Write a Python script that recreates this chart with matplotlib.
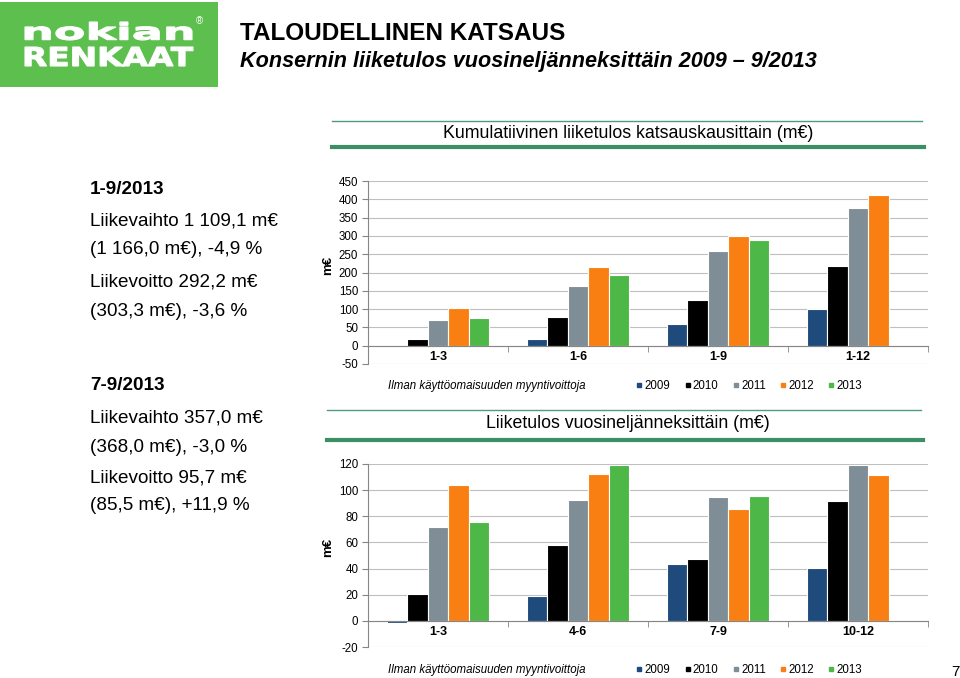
import matplotlib

matplotlib.use("Agg")
import matplotlib.pyplot as plt
from matplotlib.font_manager import FontProperties
from matplotlib.lines import Line2D
from matplotlib.patches import PathPatch, Rectangle
from matplotlib.textpath import TextPath
from matplotlib.transforms import Affine2D

plt.rcParams["font.family"] = ["Liberation Sans", "DejaVu Sans"]
plt.rcParams["axes.unicode_minus"] = False

# --- Data --------------------------------------------------------------------
years = ["2009", "2010", "2011", "2012", "2013"]
colors = ["#1F4A7C", "#000000", "#7F8D97", "#FA7F12", "#4DB848"]

cum_periods = ["1-3", "1-6", "1-9", "1-12"]
cum_2009 = [-1.6, 17.5, 58, 99]
cum_2010 = [18, 78, 125, 218]
cum_2011 = [69, 163, 258, 376]
cum_2012 = [104, 215, 300, 413]
cum_2013 = [75, 193, 289, None]

q_periods = ["1-3", "4-6", "7-9", "10-12"]
q_2009 = [-1.6, 19.2, 43.5, 40.2]
q_2010 = [20.5, 58.3, 47.3, 91.8]
q_2011 = [71.6, 92.8, 94.9, 119.2]
q_2012 = [104.3, 112.5, 85.5, 111.3]
q_2013 = [75.7, 119.4, 95.7, None]

cum_yticks = [-50, 0, 50, 100, 150, 200, 250, 300, 350, 400, 450]
q_yticks = [-20, 0, 20, 40, 60, 80, 100, 120]

W, H = 960, 678
fig = plt.figure(figsize=(W / 100, H / 100), dpi=100)


def fx(px):
    return px / W


def fy(py):
    return 1 - py / H


# --- Logo ----------------------------------------------------------------------
logo = fig.add_axes([0, fy(87), fx(218), 85 / H])
logo.set_xlim(0, 218)
logo.set_ylim(87, 2)
logo.axis("off")
logo.add_patch(Rectangle((0, 2), 218, 85, color="#5CBF4E"))


def stretched_text(ax, s, x0, x1, y0, y1, weight="bold"):
    tp = TextPath((0, 0), s, prop=FontProperties(family="DejaVu Sans", weight=weight))
    ext = tp.get_extents()
    sx = (x1 - x0) / ext.width
    sy = (y1 - y0) / ext.height
    tr = Affine2D().translate(-ext.x0, -ext.y0).scale(sx, -sy).translate(x0, y1)
    ax.add_patch(PathPatch(tr.transform_path(tp), color="white", lw=0.8))


stretched_text(logo, "nokian", 25, 192, 22, 40)
stretched_text(logo, "RENKAAT", 25, 193, 47, 66)
logo.text(199, 21, "®", color="white", fontsize=7, ha="center", va="center")

# --- Titles ---------------------------------------------------------------------
fig.text(fx(240), fy(34), "TALOUDELLINEN KATSAUS", fontsize=17.5, fontweight="bold",
         va="center", ha="left")
fig.text(fx(240), fy(62), "Konsernin liiketulos vuosineljänneksittäin 2009 – 9/2013",
         fontsize=15.6, fontweight="bold", style="italic", va="center", ha="left")

# --- Left-hand text ---------------------------------------------------------------
left_lines = [
    (189, "1-9/2013", "bold"),
    (221, "Liikevaihto 1 109,1 m€", "normal"),
    (250, "(1 166,0 m€), -4,9 %", "normal"),
    (282, "Liikevoitto 292,2 m€", "normal"),
    (311, "(303,3 m€), -3,6 %", "normal"),
    (386, "7-9/2013", "bold"),
    (418, "Liikevaihto 357,0 m€", "normal"),
    (447, "(368,0 m€), -3,0 %", "normal"),
    (478, "Liikevoitto 95,7 m€", "normal"),
    (506, "(85,5 m€), +11,9 %", "normal"),
]
for y, s, w in left_lines:
    fig.text(fx(90), fy(y), s, fontsize=13.6, fontweight=w, va="center", ha="left")

fig.text(fx(955), fy(672), "7", fontsize=11, ha="center", va="center")


# --- Section headers ----------------------------------------------------------
def header(text, y_top, y_text, y_bot, x0, x1):
    fig.add_artist(Line2D([fx(x0), fx(x1)], [fy(y_top), fy(y_top)], color="#4E9C80", lw=1))
    fig.add_artist(Line2D([fx(x0), fx(x1 + 2)], [fy(y_bot), fy(y_bot)], color="#3C8F64", lw=3))
    fig.text(fx(628), fy(y_text), text, fontsize=12.8, ha="center", va="center")


header("Kumulatiivinen liiketulos katsauskausittain (m€)", 121, 133, 147, 332, 922)
header("Liiketulos vuosineljänneksittäin (m€)", 410, 423, 440, 327, 921)


# --- Charts ---------------------------------------------------------------------
def bar_chart(rect, periods, series, yticks, ylabel_y, legend_y):
    ax = fig.add_axes(rect)
    n = len(series)
    step = 0.147
    for j, (vals, c) in enumerate(zip(series, colors)):
        xs = [i + (j - (n - 1) / 2) * step for i, v in enumerate(vals) if v is not None]
        vs = [v for v in vals if v is not None]
        ax.bar(xs, vs, width=step, color=c, edgecolor="white", linewidth=0.8, zorder=3)
    ax.set_xlim(-0.5, len(periods) - 0.5)
    ax.set_ylim(yticks[0], yticks[-1])
    ax.set_yticks(yticks)
    ax.yaxis.grid(True, color="#BFBFBF", lw=0.8, zorder=0)
    ax.set_axisbelow(True)
    for s in ["top", "right"]:
        ax.spines[s].set_visible(False)
    ax.spines["left"].set_color("#868686")
    ax.spines["bottom"].set_color("#868686")
    ax.spines["bottom"].set_position(("data", 0))
    ax.spines["bottom"].set_zorder(4)
    ax.tick_params(axis="y", labelsize=8.3, length=4, color="#868686", pad=3)
    ax.set_xticks(range(len(periods)))
    ax.set_xticklabels(periods, fontsize=9, fontweight="bold")
    ax.set_xticks([i - 0.5 for i in range(len(periods) + 1)], minor=True)
    ax.tick_params(axis="x", which="major", length=0, pad=4)
    ax.tick_params(axis="x", which="minor", length=4, color="#868686")
    fig.text(fx(328), fy(ylabel_y), "m€", rotation=90, fontsize=9.5, fontweight="bold",
             ha="center", va="center")
    fig.text(fx(388), fy(legend_y), "Ilman käyttöomaisuuden myyntivoittoja",
             fontsize=8.3, style="italic", ha="left", va="center")
    handles = [Line2D([], [], marker="s", linestyle="", markersize=3.5, color=c) for c in colors]
    fig.legend(handles, years, loc="center left", bbox_to_anchor=(fx(636), fy(legend_y)),
               ncol=5, frameon=False, fontsize=8.3, handlelength=0.6, handletextpad=0.15,
               columnspacing=1.2, borderpad=0, borderaxespad=0)
    return ax


bar_chart([fx(368), fy(364), fx(560), (364 - 181) / H], cum_periods,
          [cum_2009, cum_2010, cum_2011, cum_2012, cum_2013], cum_yticks, 265, 386)
bar_chart([fx(368), fy(647), fx(560), (647 - 464) / H], q_periods,
          [q_2009, q_2010, q_2011, q_2012, q_2013], q_yticks, 547, 670)

fig.savefig("out.png", dpi=100)
